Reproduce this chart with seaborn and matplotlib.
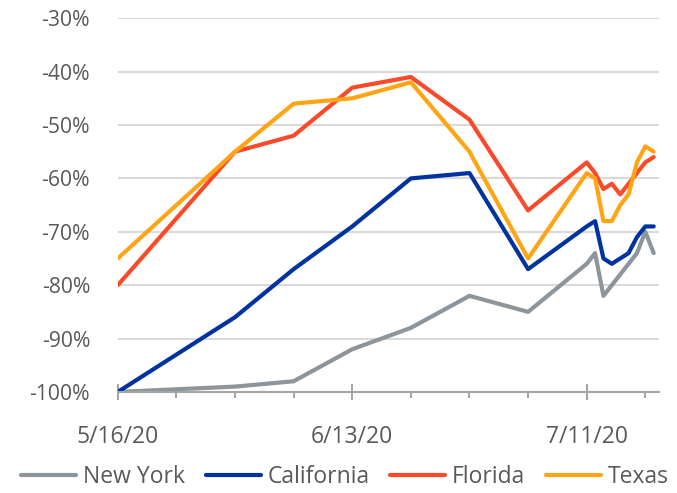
import matplotlib
matplotlib.use("Agg")
import matplotlib.pyplot as plt
import matplotlib.dates as mdates
import matplotlib.ticker as mticker
import pandas as pd
import seaborn as sns

# days after 5/16/20 where each value was read
days = [0, 14, 21, 28, 35, 42, 49, 56, 57, 58, 59, 60, 61, 62, 63, 64]
new_york = [-100, -99, -98, -92, -88, -82, -85, -76, -74, -82, -80, -78, -76, -74, -70, -74]
california = [-100, -86, -77, -69, -60, -59, -77, -69, -68, -75, -76, -75, -74, -71, -69, -69]
florida = [-80, -55, -52, -43, -41, -49, -66, -57, -59, -62, -61, -63, -61, -59, -57, -56]
texas = [-75, -55, -46, -45, -42, -55, -75, -59, -60, -68, -68, -65, -63, -57, -54, -55]

series = {"New York": new_york, "California": california,
          "Florida": florida, "Texas": texas}
colors = {"New York": "#8C959B", "California": "#0033A0",
          "Florida": "#FA4A2A", "Texas": "#FFA515"}

start = pd.Timestamp("2020-05-16")
dates = [start + pd.Timedelta(days=d) for d in days]

rows = []
for name, vals in series.items():
    for dt, v in zip(dates, vals):
        rows.append({"date": dt, "value": v, "state": name})
df = pd.DataFrame(rows)

sns.set_theme(style="white")
plt.rcParams["font.family"] = ["Open Sans", "DejaVu Sans"]
text_col = "#595959"

fig, ax = plt.subplots(figsize=(6.77, 4.93), dpi=100)
fig.subplots_adjust(left=0.174, right=0.973, top=0.963, bottom=0.205)

sns.lineplot(data=df, x="date", y="value", hue="state", palette=colors,
             linewidth=3.0, ax=ax, legend=True)

ax.set_ylim(-100, -30)
x0 = mdates.date2num(start)
ax.set_xlim(x0, x0 + 64.6)
ax.yaxis.set_major_locator(mticker.MultipleLocator(10))
ax.yaxis.set_major_formatter(mticker.FuncFormatter(lambda v, p: f"{v:.0f}%"))
ax.grid(axis="y", color="#D9D9D9", linewidth=1.5)
ax.set_axisbelow(True)

major = [start + pd.Timedelta(days=d) for d in (0, 28, 56)]
minor = [start + pd.Timedelta(days=d) for d in (7, 14, 21, 35, 42, 49, 63)]
ax.set_xticks(major)
ax.set_xticks(minor, minor=True)
ax.xaxis.set_major_formatter(mdates.DateFormatter("%-m/%-d/%y"))

for s in ["top", "right", "left"]:
    ax.spines[s].set_visible(False)
ax.spines["bottom"].set_color("#A6A6A6")
ax.spines["bottom"].set_linewidth(1.5)

ax.tick_params(axis="x", which="major", direction="inout", length=12, width=1.5,
               color="#A6A6A6", pad=18, labelsize=16.5, labelcolor=text_col, bottom=True)
ax.tick_params(axis="x", which="minor", direction="out", length=4.5, width=1.5,
               color="#A6A6A6", bottom=True)
ax.tick_params(axis="y", length=0, pad=20, labelsize=15.2, labelcolor=text_col)
ax.set_xlabel("")
ax.set_ylabel("")

handles, labels = ax.get_legend_handles_labels()
leg = ax.legend(handles, labels, loc="center", bbox_to_anchor=(0.42, -0.228),
                ncol=4, frameon=False, fontsize=16.5, handlelength=2.4,
                handletextpad=0.3, columnspacing=0.9, labelcolor=text_col,
                borderaxespad=0, borderpad=0)

fig.savefig("out.png", dpi=100)
